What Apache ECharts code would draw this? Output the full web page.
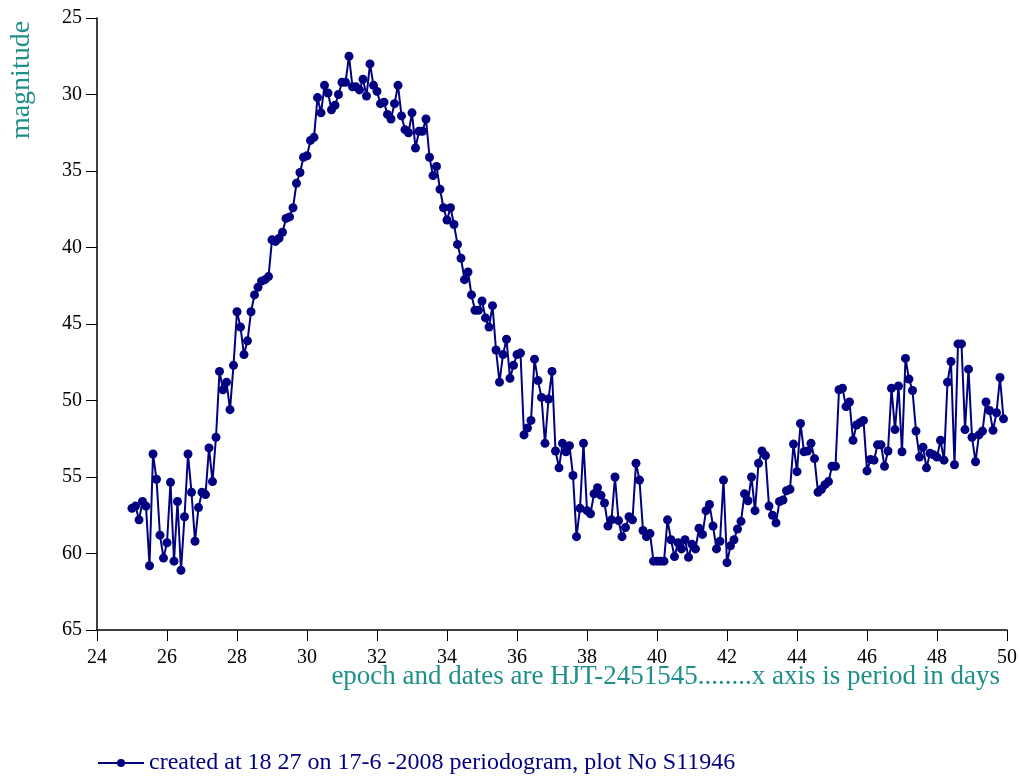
<!DOCTYPE html>
<html>
<head>
<meta charset="utf-8">
<title>periodogram</title>
<script src="https://cdn.jsdelivr.net/npm/echarts@6/dist/echarts.min.js"></script>
<style>
  html, body { margin: 0; padding: 0; background: #fff; }
  #chart { width: 1020px; height: 780px; }
</style>
</head>
<body>
<div id="chart"></div>
<script>
// period in days (x axis), one row per day
const periods = [
  25.0, 25.1, 25.2, 25.3, 25.4, 25.5, 25.6, 25.7, 25.8, 25.9,
  26.0, 26.1, 26.2, 26.3, 26.4, 26.5, 26.6, 26.7, 26.8, 26.9,
  27.0, 27.1, 27.2, 27.3, 27.4, 27.5, 27.6, 27.7, 27.8, 27.9,
  28.0, 28.1, 28.2, 28.3, 28.4, 28.5, 28.6, 28.7, 28.8, 28.9,
  29.0, 29.1, 29.2, 29.3, 29.4, 29.5, 29.6, 29.7, 29.8, 29.9,
  30.0, 30.1, 30.2, 30.3, 30.4, 30.5, 30.6, 30.7, 30.8, 30.9,
  31.0, 31.1, 31.2, 31.3, 31.4, 31.5, 31.6, 31.7, 31.8, 31.9,
  32.0, 32.1, 32.2, 32.3, 32.4, 32.5, 32.6, 32.7, 32.8, 32.9,
  33.0, 33.1, 33.2, 33.3, 33.4, 33.5, 33.6, 33.7, 33.8, 33.9,
  34.0, 34.1, 34.2, 34.3, 34.4, 34.5, 34.6, 34.7, 34.8, 34.9,
  35.0, 35.1, 35.2, 35.3, 35.4, 35.5, 35.6, 35.7, 35.8, 35.9,
  36.0, 36.1, 36.2, 36.3, 36.4, 36.5, 36.6, 36.7, 36.8, 36.9,
  37.0, 37.1, 37.2, 37.3, 37.4, 37.5, 37.6, 37.7, 37.8, 37.9,
  38.0, 38.1, 38.2, 38.3, 38.4, 38.5, 38.6, 38.7, 38.8, 38.9,
  39.0, 39.1, 39.2, 39.3, 39.4, 39.5, 39.6, 39.7, 39.8, 39.9,
  40.0, 40.1, 40.2, 40.3, 40.4, 40.5, 40.6, 40.7, 40.8, 40.9,
  41.0, 41.1, 41.2, 41.3, 41.4, 41.5, 41.6, 41.7, 41.8, 41.9,
  42.0, 42.1, 42.2, 42.3, 42.4, 42.5, 42.6, 42.7, 42.8, 42.9,
  43.0, 43.1, 43.2, 43.3, 43.4, 43.5, 43.6, 43.7, 43.8, 43.9,
  44.0, 44.1, 44.2, 44.3, 44.4, 44.5, 44.6, 44.7, 44.8, 44.9,
  45.0, 45.1, 45.2, 45.3, 45.4, 45.5, 45.6, 45.7, 45.8, 45.9,
  46.0, 46.1, 46.2, 46.3, 46.4, 46.5, 46.6, 46.7, 46.8, 46.9,
  47.0, 47.1, 47.2, 47.3, 47.4, 47.5, 47.6, 47.7, 47.8, 47.9,
  48.0, 48.1, 48.2, 48.3, 48.4, 48.5, 48.6, 48.7, 48.8, 48.9,
  49.0, 49.1, 49.2, 49.3, 49.4, 49.5, 49.6, 49.7, 49.8, 49.9
];

// magnitude, same rows as periods
const magnitudes = [
  57.05, 56.9, 57.8, 56.6, 56.9, 60.8, 53.5, 55.15, 58.8, 60.3,
  59.3, 55.35, 60.5, 56.6, 61.1, 57.6, 53.5, 56.0, 59.2, 57.0,
  56.0, 56.15, 53.1, 55.3, 52.4, 48.1, 49.3, 48.8, 50.6, 47.7,
  44.2, 45.2, 47.0, 46.1, 44.2, 43.1, 42.6, 42.2, 42.1, 41.9,
  39.5, 39.6, 39.4, 39.0, 38.1, 38.0, 37.4, 35.8, 35.1, 34.1,
  34.0, 33.0, 32.8, 30.2, 31.2, 29.4, 29.9, 31.0, 30.7, 30.0,
  29.2, 29.2, 27.5, 29.5, 29.5, 29.7, 29.0, 30.1, 28.0, 29.4,
  29.8, 30.6, 30.5, 31.3, 31.6, 30.6, 29.4, 31.4, 32.3, 32.5,
  31.2, 33.5, 32.4, 32.4, 31.6, 34.1, 35.3, 34.7, 36.2, 37.4,
  38.2, 37.4, 38.5, 39.8, 40.7, 42.1, 41.6, 43.1, 44.1, 44.1,
  43.5, 44.6, 45.2, 43.8, 46.7, 48.8, 47.0, 46.0, 48.55, 47.7,
  47.0, 46.9, 52.25, 51.8, 51.3, 47.3, 48.7, 49.8, 52.8, 49.9,
  48.1, 53.3, 54.4, 52.8, 53.35, 52.95, 54.9, 58.9, 57.05, 52.8,
  57.2, 57.4, 56.1, 55.7, 56.2, 56.7, 58.2, 57.8, 55.0, 57.85,
  58.9, 58.3, 57.6, 57.8, 54.1, 55.2, 58.5, 58.9, 58.7, 60.5,
  60.5, 60.5, 60.5, 57.8, 59.1, 60.2, 59.3, 59.7, 59.1, 60.25,
  59.4, 59.7, 58.35, 58.75, 57.2, 56.8, 58.2, 59.7, 59.2, 55.2,
  60.6, 59.5, 59.1, 58.4, 57.9, 56.1, 56.55, 55.0, 57.2, 54.1,
  53.3, 53.6, 56.9, 57.5, 58.0, 56.6, 56.5, 55.9, 55.8, 52.85,
  54.65, 51.5, 53.35, 53.3, 52.8, 53.8, 56.0, 55.8, 55.5, 55.3,
  54.3, 54.3, 49.3, 49.2, 50.4, 50.1, 52.6, 51.6, 51.45, 51.3,
  54.6, 53.85, 53.9, 52.9, 52.9, 54.3, 53.3, 49.2, 51.9, 49.05,
  53.35, 47.25, 48.6, 49.35, 52.0, 53.7, 53.05, 54.4, 53.45, 53.55,
  53.7, 52.6, 53.9, 48.8, 47.45, 54.2, 46.3, 46.3, 51.9, 47.95,
  52.4, 54.0, 52.25, 52.0, 50.1, 50.65, 51.95, 50.8, 48.5, 51.2
];

const seriesName = 'created at 18 27 on 17-6 -2008 periodogram, plot No S11946';
const yTitle = 'magnitude';
const xTitle = 'epoch and dates are HJT-2451545........x axis is period in days';

const serif = '"Liberation Serif", "DejaVu Serif", serif';
const teal = '#1f8f8a';
const navy = '#000080';

const points = periods.map((p, i) => [p, magnitudes[i]]);

const chart = echarts.init(document.getElementById('chart'));
chart.setOption({
  animation: false,
  backgroundColor: '#fff',
  textStyle: { fontFamily: serif },
  grid: { left: 97, right: 10, top: 18, bottom: 150, containLabel: false },
  xAxis: {
    type: 'value',
    min: 24, max: 50, interval: 2,
    axisLine: { show: true, lineStyle: { color: '#000', width: 1.5 } },
    axisTick: { show: true, length: 11, lineStyle: { color: '#000' } },
    axisLabel: { color: '#000', fontSize: 20, fontFamily: serif, margin: 18 },
    splitLine: { show: false }
  },
  yAxis: {
    type: 'value',
    inverse: true,
    min: 25, max: 65, interval: 5,
    axisLine: { show: true, lineStyle: { color: '#000', width: 1.5 } },
    axisTick: { show: true, length: 11, lineStyle: { color: '#000' } },
    axisLabel: { color: '#000', fontSize: 20, fontFamily: serif, margin: 15 },
    splitLine: { show: false }
  },
  legend: {
    left: 92, top: 746,
    itemWidth: 46, itemHeight: 10, itemGap: 6,
    textStyle: { color: navy, fontSize: 24, fontFamily: serif },
    data: [seriesName]
  },
  graphic: [
    {
      type: 'text',
      x: 22, y: 80,
      rotation: Math.PI / 2,
      style: {
        text: yTitle, fill: teal, font: '28px ' + serif,
        align: 'center', verticalAlign: 'middle'
      }
    },
    {
      type: 'text',
      x: 1000, y: 677,
      style: {
        text: xTitle, fill: teal, font: '27px ' + serif,
        align: 'right', verticalAlign: 'middle'
      }
    }
  ],
  series: [{
    name: seriesName,
    type: 'line',
    data: points,
    symbol: 'circle',
    symbolSize: 9,
    lineStyle: { color: navy, width: 2 },
    itemStyle: { color: navy },
    emphasis: { disabled: true }
  }]
});
</script>
</body>
</html>
